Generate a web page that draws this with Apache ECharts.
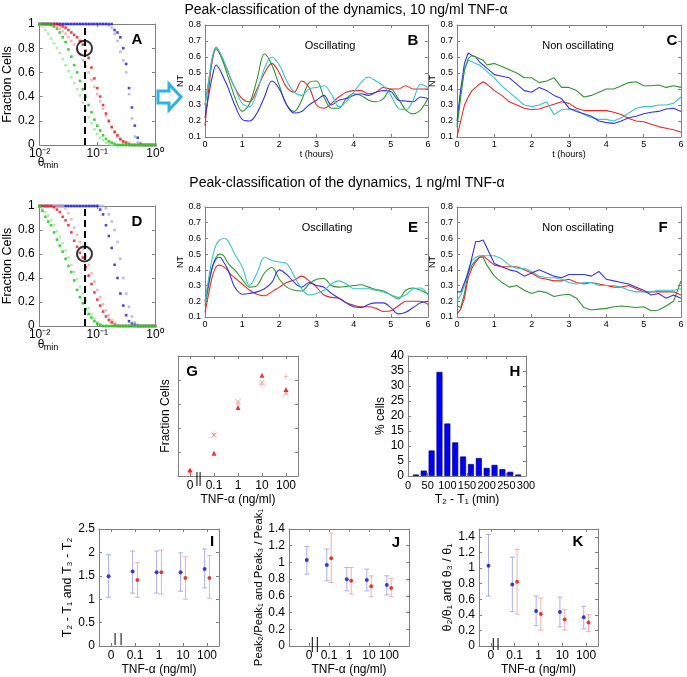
<!DOCTYPE html>
<html><head><meta charset="utf-8">
<script src="https://cdn.jsdelivr.net/npm/echarts@6/dist/echarts.min.js"></script>
<style>html,body{margin:0;padding:0;background:#fff}#c{width:687px;height:677px}</style>
</head><body><div id="c"></div>
<script>
// ---------------- DATA ----------------
const thetaGrid = [0.0100,0.0112,0.0126,0.0141,0.0158,0.0178,0.0200,0.0224,0.0251,0.0282,0.0316,0.0355,0.0398,0.0447,0.0501,0.0562,0.0631,0.0708,0.0794,0.0891,0.1000,0.1122,0.1259,0.1413,0.1585,0.1778,0.1995,0.2239,0.2512,0.2818,0.3162,0.3548,0.3981,0.4467,0.5012,0.5623,0.6310,0.7079,0.7943,0.8913,1.0000];
// Panel A (10 ng/ml)
const gA1 = [1,1,1,1,.99,.98,.96,.93,.89,.85,.79,.73,.66,.60,.53,.46,.40,.33,.27,.21,.16,.12,.08,.05,.03,.02,.01,0,0,0,0,0,0,0,0,0,0,0,0,0,0];
const gA2 = [1,.98,.95,.92,.88,.84,.80,.76,.71,.66,.61,.56,.51,.46,.41,.35,.29,.23,.18,.13,.09,.06,.04,.02,.01,0,0,0,0,0,0,0,0,0,0,0,0,0,0,0,0];
const rA1 = [1,1,1,1,1,1,1,.99,.98,.97,.95,.93,.91,.89,.86,.83,.78,.72,.64,.55,.47,.40,.33,.26,.20,.15,.11,.08,.05,.03,.02,.01,0,0,0,0,0,0,0,0,0];
const rA2 = [1,1,1,1,1,.99,.98,.96,.94,.92,.89,.86,.83,.79,.75,.70,.65,.60,.54,.48,.42,.36,.30,.24,.19,.14,.10,.07,.04,.02,.01,0,0,0,0,0,0,0,0,0,0];
const bA1 = [1,1,1,1,1,1,1,1,1,1,1,1,1,1,1,1,1,1,1,1,1,1,1,1,1,1,.95,.93,.89,.80,.67,.47,.31,.16,.06,.01,0,0,0,0,0];
const bA2 = [1,1,1,1,1,1,1,1,1,1,1,1,1,1,1,1,1,1,1,1,1,1,1,1,.99,.97,.92,.86,.77,.70,.60,.42,.22,.07,.02,0,0,0,0,0,0];
// Panel D (1 ng/ml)
const gD1 = [1,.96,.91,.87,.84,.78,.72,.67,.62,.56,.50,.45,.38,.30,.24,.19,.14,.10,.07,.04,.02,.01,0,0,0,0,0,0,0,0,0,0,0,0,0,0,0,0,0,0,0];
const gD2 = [1,.98,.95,.92,.88,.84,.79,.74,.69,.63,.57,.51,.45,.39,.33,.27,.21,.15,.10,.06,.03,.01,0,0,0,0,0,0,0,0,0,0,0,0,0,0,0,0,0,0,0];
const rD1 = [1,1,1,1,1,.99,.97,.95,.91,.88,.84,.78,.71,.66,.61,.57,.49,.42,.35,.28,.22,.17,.12,.08,.05,.03,.01,0,0,0,0,0,0,0,0,0,0,0,0,0,0];
const rD2 = [1,1,1,1,1,1,1,1,1,.98,.94,.89,.82,.76,.70,.64,.58,.51,.44,.37,.30,.24,.18,.13,.09,.05,.03,.01,0,0,0,0,0,0,0,0,0,0,0,0,0];
const bD1 = [1,1,1,1,1,1,1,1,1,1,1,1,1,1,1,1,1,1,1,1,1,.97,.93,.84,.75,.65,.51,.40,.27,.17,.09,.04,.02,.01,0,0,0,0,0,0,0];
const bD2 = [1,1,1,1,1,1,1,1,1,1,1,1,1,1,1,1,1,1,1,1,1,1,1,.98,.93,.87,.80,.70,.56,.40,.27,.16,.08,.03,.01,0,0,0,0,0,0];
const thetaMinLine = 0.06;
const circleA = [0.06, 0.8];
const circleD = [0.06, 0.6];

// Time courses (hours)
const tHours = [0,0.1,0.2,0.3,0.4,0.5,0.6,0.7,0.8,1.0,1.2,1.4,1.6,1.8,2.0,2.2,2.4,2.6,2.8,3.0,3.2,3.4,3.6,3.8,4.0,4.2,4.4,4.6,4.8,5.0,5.2,5.4,5.6,5.8,6.0];
const B_red   = [.17,.40,.58,.65,.62,.57,.52,.46,.41,.34,.32,.40,.50,.56,.50,.41,.38,.45,.41,.30,.28,.31,.35,.38,.39,.39,.37,.38,.41,.40,.40,.42,.40,.40,.40];
const B_green = [.30,.45,.60,.66,.62,.56,.49,.42,.35,.26,.31,.46,.62,.55,.42,.30,.26,.33,.44,.45,.35,.28,.28,.34,.37,.36,.33,.32,.34,.40,.34,.27,.245,.27,.34];
const B_blue  = [.22,.36,.48,.55,.52,.47,.42,.36,.30,.21,.20,.25,.35,.45,.40,.30,.25,.26,.30,.33,.36,.30,.33,.34,.36,.37,.36,.38,.39,.385,.33,.325,.32,.35,.34];
const B_cyan  = [.30,.45,.60,.66,.63,.58,.52,.46,.41,.31,.29,.38,.53,.60,.55,.45,.38,.36,.40,.41,.42,.37,.29,.32,.38,.44,.475,.45,.42,.36,.28,.27,.33,.43,.41];
const C_green = [.16,.35,.52,.59,.61,.60,.59,.58,.55,.56,.54,.52,.50,.47,.47,.44,.45,.47,.41,.41,.39,.35,.36,.38,.40,.40,.42,.44,.445,.42,.42,.425,.41,.42,.41];
const C_blue  = [.20,.40,.56,.625,.61,.60,.57,.55,.53,.49,.48,.47,.43,.39,.38,.41,.39,.36,.34,.28,.26,.245,.23,.20,.19,.185,.20,.22,.23,.245,.255,.26,.275,.28,.26];
const C_cyan  = [.18,.38,.52,.58,.57,.56,.55,.53,.51,.47,.42,.38,.34,.30,.29,.30,.32,.24,.27,.275,.27,.24,.22,.21,.21,.20,.22,.25,.28,.29,.29,.30,.30,.31,.35];
const C_red   = [.10,.20,.30,.35,.39,.41,.43,.445,.43,.39,.36,.32,.30,.28,.27,.275,.29,.305,.32,.31,.28,.265,.265,.265,.265,.255,.24,.215,.20,.195,.18,.165,.155,.145,.13];
const E_cyan  = [.19,.35,.48,.56,.59,.60,.59,.55,.50,.42,.30,.38,.48,.46,.45,.44,.36,.28,.24,.25,.27,.31,.33,.31,.28,.28,.28,.27,.26,.24,.225,.24,.28,.285,.24];
const E_green = [.17,.30,.42,.48,.50,.49,.45,.42,.40,.34,.29,.30,.38,.415,.34,.29,.27,.265,.31,.34,.345,.30,.29,.295,.30,.305,.29,.275,.265,.24,.215,.27,.285,.27,.245];
const E_blue  = [.20,.32,.42,.47,.48,.45,.41,.35,.29,.245,.25,.26,.28,.32,.40,.37,.32,.29,.32,.30,.29,.25,.22,.19,.165,.16,.18,.19,.19,.16,.12,.13,.16,.19,.20];
const E_red   = [.13,.25,.36,.42,.43,.42,.40,.37,.35,.31,.27,.245,.235,.26,.29,.32,.335,.36,.33,.29,.24,.225,.22,.19,.175,.165,.165,.155,.135,.14,.17,.20,.20,.20,.18];
const F_blue  = [.26,.26,.32,.38,.48,.58,.58,.59,.54,.44,.42,.40,.39,.36,.38,.40,.38,.36,.35,.37,.37,.37,.36,.39,.34,.33,.32,.31,.29,.27,.24,.25,.22,.24,.22];
const F_cyan  = [.20,.24,.30,.40,.46,.48,.49,.49,.49,.49,.47,.43,.41,.41,.39,.36,.35,.35,.34,.32,.31,.32,.32,.30,.30,.30,.29,.27,.26,.26,.26,.27,.27,.27,.28];
const F_red   = [.12,.15,.22,.35,.41,.45,.48,.49,.47,.43,.42,.42,.42,.40,.38,.35,.34,.33,.33,.34,.32,.31,.32,.31,.30,.29,.29,.30,.28,.26,.26,.26,.26,.26,.24];
const F_green = [.17,.16,.25,.38,.43,.46,.48,.48,.43,.36,.32,.29,.30,.27,.25,.265,.255,.23,.24,.245,.22,.16,.145,.15,.155,.165,.17,.165,.16,.165,.14,.145,.17,.20,.33];

// TNF doses
const TNF = ['0','0.1','1','10','100'];
// Panel G
const G_tri   = [0.05,0.19,0.57,0.84,0.72];
const G_cross = [0.03,0.34,0.62,0.78,0.69];
const G_plus  = [0.04,0.35,0.60,0.76,0.83];
// Panel H
const H_bins = [20,40,60,80,100,120,140,160,180,200,220,240,260,280];
const H_pct  = [0.5,1.8,8.5,34.7,17.5,11.2,6.5,4.0,6.0,2.7,3.7,2.3,1.4,0.5];
// Panel I
const I_blue = [1.49,1.59,1.575,1.575,1.645], I_blue_lo = [1.04,1.13,1.13,1.17,1.24], I_blue_hi = [1.95,2.03,2.03,1.99,2.07];
const I_red  = [null,1.41,1.575,1.455,1.455], I_red_lo  = [null,1.04,1.11,1.00,1.02], I_red_hi  = [null,1.78,2.05,1.905,1.93];
// Panel J
const J_blue = [1.03,0.97,0.80,0.79,0.73], J_blue_lo = [0.86,0.78,0.66,0.66,0.61], J_blue_hi = [1.19,1.16,0.94,0.92,0.84];
const J_red  = [null,1.05,0.78,0.715,0.695], J_red_lo = [null,0.76,0.62,0.59,0.59], J_red_hi = [null,1.35,0.94,0.84,0.81];
// Panel K
const K_blue = [1.03,0.79,0.45,0.435,0.37], K_blue_lo = [0.64,0.44,0.26,0.245,0.22], K_blue_hi = [1.43,1.14,0.64,0.625,0.51];
const K_red  = [null,0.825,0.41,0.34,0.30], K_red_lo = [null,0.41,0.205,0.205,0.185], K_red_hi = [null,1.24,0.615,0.465,0.40];

// ---------------- BUILD ----------------
const FF = '"Liberation Sans", Arial, Helvetica, sans-serif';
const FRAME = '#808080';
const grids = [], xAxes = [], yAxes = [], series = [];
const catPos = TNF.map((_, i) => i - 2);
function tk(extra) { return Object.assign({show:true, inside:true, length:3, lineStyle:{color:FRAME, width:1}}, extra || {}); }
function axisBase(gi, pos, o, show) {
  const a = Object.assign({
    gridIndex: gi, position: pos,
    axisLine: {show:true, onZero:false, lineStyle:{color:FRAME, width:1}},
    axisTick: tk(),
    splitLine: {show:false}
  }, o);
  if (!show) { a.name = ''; a.axisLabel = Object.assign({}, a.axisLabel || {}, {show:false}); }
  return a;
}
function panel(rect, xo, yo) {
  const gi = grids.length;
  grids.push({left:rect[0], top:rect[1], width:rect[2], height:rect[3]});
  const xi = xAxes.length, yi = yAxes.length;
  xAxes.push(axisBase(gi,'bottom',xo,true), axisBase(gi,'top',xo,false));
  yAxes.push(axisBase(gi,'left',yo,true), axisBase(gi,'right',yo,false));
  return {gi, xi, yi, rect};
}
const L = (size, extra) => Object.assign({fontSize:size, color:'#000', fontFamily:FF}, extra || {});
const fmt1 = v => String(+v.toFixed(1));
function sup(n) { const m = {'-':'⁻','0':'⁰','1':'¹','2':'²','3':'³'}; return String(n).split('').map(c => m[c]).join(''); }

// A / D
const logX = {type:'log', logBase:10, min:0.01, max:1, axisLabel:L(12,{margin:3, formatter: v => '10' + sup(Math.round(Math.log10(v)))})};
const fracY = {type:'value', min:0, max:1, interval:0.2, name:'Fraction Cells', nameLocation:'middle', nameGap:20, nameTextStyle:L(12.5), axisLabel:L(12,{margin:5, formatter: fmt1})};
const pA = panel([35,24,120,121], logX, fracY);
const pD = panel([35,206,120,120], logX, fracY);
function fracSeries(p, list, circ) {
  list.forEach(([vals, color], k) => {
    const s = {type:'scatter', xAxisIndex:p.xi, yAxisIndex:p.yi, symbol:'rect', symbolSize:2.6, silent:true,
      itemStyle:{color}, data: thetaGrid.map((t,i) => [t, vals[i]])};
    if (k === 0) s.markLine = {silent:true, symbol:'none', label:{show:false}, lineStyle:{color:'#000', type:[7,4], width:2}, data:[{xAxis: thetaMinLine}], animation:false};
    series.push(s);
  });
  series.push({type:'scatter', xAxisIndex:p.xi, yAxisIndex:p.yi, symbol:'circle', symbolSize:15, silent:true, z:5,
    itemStyle:{color:'rgba(0,0,0,0)', borderColor:'#000', borderWidth:2}, data:[circ]});
}
const LB='#a8a8f4', DB='#1a1ad0', LR='#f4a4a4', DR='#e01818', LG='#9be89b', DG='#10c010';
fracSeries(pA, [[bA2,LB],[bA1,DB],[rA2,LR],[rA1,DR],[gA2,LG],[gA1,DG]], circleA);
fracSeries(pD, [[bD2,LB],[bD1,DB],[rD2,LR],[rD1,DR],[gD2,LG],[gD1,DG]], circleD);

// B C E F
const tX = (named) => Object.assign({type:'value', min:0, max:6, interval:1, axisLabel:L(9,{margin:3})},
  named ? {name:'t (hours)', nameLocation:'middle', nameGap:12, nameTextStyle:L(9)} : {});
const ntY = {type:'value', min:0.1, max:0.8, interval:0.1, name:'NT', nameLocation:'middle', nameGap:15, nameTextStyle:L(9),
  axisLabel:L(9,{margin:4, formatter: v => v.toFixed(1)})};
const pB = panel([205,25,223,112], tX(true), ntY);
const pC = panel([457,25,224,112], tX(true), ntY);
const pE = panel([205,207,223,110], tX(false), ntY);
const pF = panel([457,207,224,110], tX(false), ntY);
const RED='#e52a2a', GRN='#2f952f', BLU='#3434dc', CYN='#33c6cc';
function lines(p, list, smooth) {
  list.forEach(([vals, color]) => series.push({type:'line', xAxisIndex:p.xi, yAxisIndex:p.yi, silent:true,
    showSymbol:false, symbol:'none', smooth, lineStyle:{color, width:1.1}, data: tHours.map((t,i) => [t, vals[i]])}));
}
lines(pB, [[B_red,RED],[B_green,GRN],[B_blue,BLU],[B_cyan,CYN]], 0.35);
lines(pC, [[C_red,RED],[C_cyan,CYN],[C_blue,BLU],[C_green,GRN]], false);
lines(pE, [[E_red,RED],[E_green,GRN],[E_blue,BLU],[E_cyan,CYN]], 0.35);
lines(pF, [[F_green,GRN],[F_red,RED],[F_cyan,CYN],[F_blue,BLU]], false);

// G
const concX = (mn, mx) => ({type:'value', min:mn, max:mx, axisTick: tk({customValues: catPos}),
  axisLabel: L(12,{margin:4, customValues: catPos, formatter: v => TNF[Math.round(v)+2]}),
  name:'TNF-α (ng/ml)', nameLocation:'middle', nameGap:18, nameTextStyle:L(12)});
const pG = panel([178,356,120,120], concX(-2.5,2.5),
  {type:'value', min:0, max:1, interval:0.2, axisLabel:{show:false}, name:'Fraction Cells', nameLocation:'middle', nameGap:6, nameTextStyle:L(12)});
const XPATH = 'path://M0,0L10,10M10,0L0,10', PPATH = 'path://M5,0L5,10M0,5L10,5';
series.push({type:'scatter', xAxisIndex:pG.xi, yAxisIndex:pG.yi, symbol:PPATH, symbolSize:5, silent:true,
  itemStyle:{color:'none', borderColor:'#f5b0b0', borderWidth:1}, data: G_plus.map((v,i) => [catPos[i], v])});
series.push({type:'scatter', xAxisIndex:pG.xi, yAxisIndex:pG.yi, symbol:XPATH, symbolSize:5, silent:true,
  itemStyle:{color:'none', borderColor:'#ee8080', borderWidth:1}, data: G_cross.map((v,i) => [catPos[i], v])});
series.push({type:'scatter', xAxisIndex:pG.xi, yAxisIndex:pG.yi, symbol:'triangle', symbolSize:5, silent:true,
  itemStyle:{color:'#e00000'}, data: G_tri.map((v,i) => [catPos[i], v])});

// H
const pH = panel([408,356,118,120],
  {type:'value', min:0, max:300, interval:50, axisLabel:L(11,{margin:4}), name:'T₂ - T₁ (min)', nameLocation:'middle', nameGap:18, nameTextStyle:L(12)},
  {type:'value', min:0, max:40, interval:5, axisLabel:L(12,{margin:4}), name:'% cells', nameLocation:'middle', nameGap:18, nameTextStyle:L(12)});
series.push({type:'bar', xAxisIndex:pH.xi, yAxisIndex:pH.yi, barWidth:6, silent:true,
  itemStyle:{color:'#0000ff', borderColor:'#00006a', borderWidth:0.7}, data: H_bins.map((b,i) => [b, H_pct[i]])});

// I J K
function errPanel(p, off, b, blo, bhi, r, rlo, rhi) {
  const mk = (vals, lo, hi, d, ecol, pcol) => {
    const pos = catPos.map(c => c + d);
    series.push({type:'custom', xAxisIndex:p.xi, yAxisIndex:p.yi, silent:true, z:2,
      data: lo.map((l,i) => l == null ? null : [pos[i], l, hi[i]]).filter(Boolean),
      encode:{x:0, y:[1,2]},
      renderItem(params, api) {
        const x = api.value(0);
        const a = api.coord([x, api.value(1)]), c = api.coord([x, api.value(2)]);
        const w = 2.5, st = {stroke:ecol, lineWidth:1};
        return {type:'group', children:[
          {type:'line', shape:{x1:a[0],y1:a[1],x2:c[0],y2:c[1]}, style:st},
          {type:'line', shape:{x1:a[0]-w,y1:a[1],x2:a[0]+w,y2:a[1]}, style:st},
          {type:'line', shape:{x1:c[0]-w,y1:c[1],x2:c[0]+w,y2:c[1]}, style:st}]};
      }});
    series.push({type:'scatter', xAxisIndex:p.xi, yAxisIndex:p.yi, silent:true, z:3, symbol:'circle', symbolSize:4,
      itemStyle:{color:pcol}, data: vals.map((v,i) => v == null ? null : [pos[i], v]).filter(Boolean)});
  };
  mk(b, blo, bhi, -off, '#aab0ea', '#1010c8');
  mk(r, rlo, rhi, off, '#f2aeae', '#e01010');
}
const yIJK = (mx, iv, name, gap, f, nfs) => ({type:'value', min:0, max:mx, interval:iv, name, nameLocation:'middle', nameGap:gap,
  nameTextStyle:L(nfs), axisLabel:L(12,{margin:4, formatter:f})});
const pI = panel([99,529,120,119], concX(-2.5,2.5), yIJK(2.5, 0.5, 'T₂ - T₁ and T₃ - T₂', 22, fmt1, 12.5));
const pJ = panel([289,529,120,119], concX(-3,3), yIJK(1.4, 0.2, 'Peak₂/Peak₁ and Peak₃ / Peak₁', 19, fmt1, 11.3));
const pK = panel([479,529,119,119], concX(-2.5,2.5), yIJK(1.5, 0.2, 'θ₂/θ₁ and θ₃ / θ₁', 16, v => v > 1.45 ? '' : fmt1(v), 12.5));
errPanel(pI, 0.1, I_blue, I_blue_lo, I_blue_hi, I_red, I_red_lo, I_red_hi);
errPanel(pJ, 0.11, J_blue, J_blue_lo, J_blue_hi, J_red, J_red_lo, J_red_hi);
errPanel(pK, 0.1, K_blue, K_blue_lo, K_blue_hi, K_red, K_red_lo, K_red_hi);

// ---------------- GRAPHICS (text, arrow) ----------------
const txt = (x, y, text, size, extra) => ({type:'text', x, y, silent:true, z:100,
  style: Object.assign({text, fontSize:size, fontFamily:FF, fill:'#000', align:'center', verticalAlign:'middle', textAlign:'center', textVerticalAlign:'middle'}, extra || {})});
const bold = (x, y, t) => txt(x, y, t, 15, {fontWeight:'bold'});
const graphics = [
  txt(346, 10, 'Peak-classification of the dynamics, 10 ng/ml TNF-α', 14),
  txt(347, 183, 'Peak-classification of the dynamics, 1 ng/ml TNF-α', 14),
  txt(41, 163, 'θ', 12), txt(51, 166, 'min', 9),
  txt(41, 345, 'θ', 12), txt(51, 348, 'min', 9),
  txt(330, 46, 'Oscillating', 11), txt(578, 46, 'Non oscillating', 11),
  txt(327, 228, 'Oscillating', 11), txt(578, 228, 'Non oscillating', 11),
  bold(137, 40, 'A'), bold(137, 222, 'D'), bold(413, 41, 'B'), bold(672, 41, 'C'),
  bold(413, 228, 'E'), bold(663, 228, 'F'), bold(192, 372, 'G'), bold(515, 372, 'H'),
  bold(212, 542, 'I'), bold(396, 543, 'J'), bold(578, 542, 'K'),
  {type:'polygon', silent:true, z:100, shape:{points:[[158,91],[169,91],[169,84],[181,97],[169,110],[169,103],[158,103]]},
    style:{fill:'#ffffff', stroke:'#2fb2e6', lineWidth:3}}
];

const chart = echarts.init(document.getElementById('c'), null, {renderer:'canvas'});
chart.setOption({animation:false, textStyle:{fontFamily:FF}, grid:grids, xAxis:xAxes, yAxis:yAxes, series, graphic:graphics});

// axis-break marks ("||") placed via axis conversion
const breaks = [[pG, [-1.71,-1.58], -4, 10], [pI, [-1.83,-1.58], -15, -3], [pJ, [-1.835,-1.585], -11, 4], [pK, [-1.90,-1.70], -10, 2]];
breaks.forEach(([p, xs, d1, d2]) => {
  const bottom = p.rect[1] + p.rect[3];
  xs.forEach(v => {
    const px = chart.convertToPixel({xAxisIndex:p.xi}, v);
    graphics.push({type:'line', silent:true, z:100, shape:{x1:px, y1:bottom+d1, x2:px, y2:bottom+d2}, style:{stroke:'#000', lineWidth:1}});
  });
});
chart.setOption({graphic:graphics});
</script></body></html>
